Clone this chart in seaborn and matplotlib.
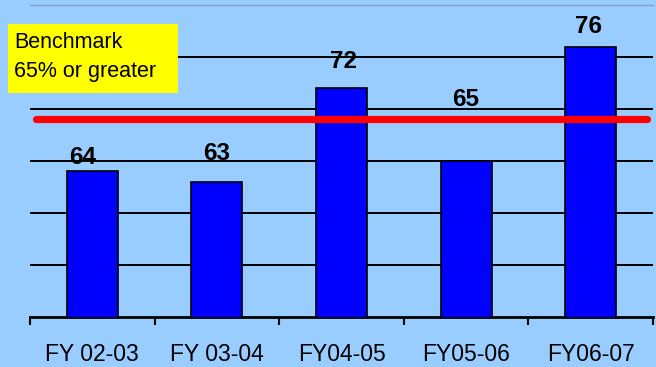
import matplotlib
matplotlib.use("Agg")
import matplotlib.pyplot as plt
from matplotlib.patches import Rectangle
import seaborn as sns
import pandas as pd

# Fiscal years and percentages
categories = ["FY 02-03", "FY 03-04", "FY04-05", "FY05-06", "FY06-07"]
values = [64, 63, 72, 65, 76]
benchmark_text = "Benchmark\n65% or greater"
benchmark_line_level = 69
y_range = (50, 80)
y_gridlines = [55, 60, 65, 70, 75]

# Hand-placed value label nudges (pixels): (dx, dy above bar top)
label_nudges = [(-10, 14), (0, 28), (2, 27), (0, 61), (-2, 20)]

sns.set_theme(style="white")
plt.rcParams["font.family"] = ["Liberation Sans", "DejaVu Sans"]

BG = "#99CCFF"
W, H = 656, 367
fig = plt.figure(figsize=(W / 100, H / 100), dpi=100, facecolor=BG)
ax = fig.add_axes([30 / W, 1 - 317 / H, 623 / W, 312 / H])
ax.set_facecolor(BG)

df = pd.DataFrame({"year": categories, "pct": values})
sns.barplot(data=df, x="year", y="pct", color="#0000FF", saturation=1,
            edgecolor="black", linewidth=1.2, width=0.41, ax=ax, zorder=3)

ax.set_xlim(-0.5, len(categories) - 0.5)
ax.set_ylim(*y_range)
ax.set_xlabel("")
ax.set_ylabel("")

# horizontal gridlines
ax.set_yticks(y_gridlines)
ax.set_yticklabels([])
ax.tick_params(axis="y", length=0)
ax.yaxis.grid(True, color="black", linewidth=1.4, zorder=1)
ax.set_axisbelow(True)

# category labels with tick marks on the boundaries
ax.set_xticks(range(len(categories)))
ax.set_xticklabels(categories, fontsize=16.5, color="black")
ax.set_xticks([i - 0.5 for i in range(len(categories) + 1)], minor=True)
ax.tick_params(axis="x", which="major", length=0, pad=18.5)
ax.tick_params(axis="x", which="minor", length=6, width=1.5, color="black",
               direction="out", bottom=True)

for s in ("left", "right"):
    ax.spines[s].set_visible(False)
ax.spines["bottom"].set_color("black")
ax.spines["bottom"].set_linewidth(2)
ax.spines["top"].set_color("#7E9CC4")
ax.spines["top"].set_linewidth(1.0)

# benchmark line
ax.plot([-0.448, len(categories) - 0.552], [benchmark_line_level] * 2,
        color="#FF0000", linewidth=5.2, solid_capstyle="round", zorder=4)

# value labels
for i, (v, (dx, dy)) in enumerate(zip(values, label_nudges)):
    ax.annotate(str(v), xy=(i, v), xytext=(dx, dy), textcoords="offset pixels",
                ha="center", va="center", fontsize=17.5, fontweight="bold",
                color="black", zorder=5)

# benchmark note
fig.add_artist(Rectangle((8 / W, 1 - 93 / H), 170 / W, 69 / H,
                         transform=fig.transFigure, facecolor="#FFFF00",
                         edgecolor="none", zorder=6))
fig.text(14 / W, 1 - 57 / H, benchmark_text, ha="left", va="center",
         fontsize=15.5, color="black", linespacing=1.5, zorder=7)

fig.savefig("out.png", dpi=100, facecolor=BG)
